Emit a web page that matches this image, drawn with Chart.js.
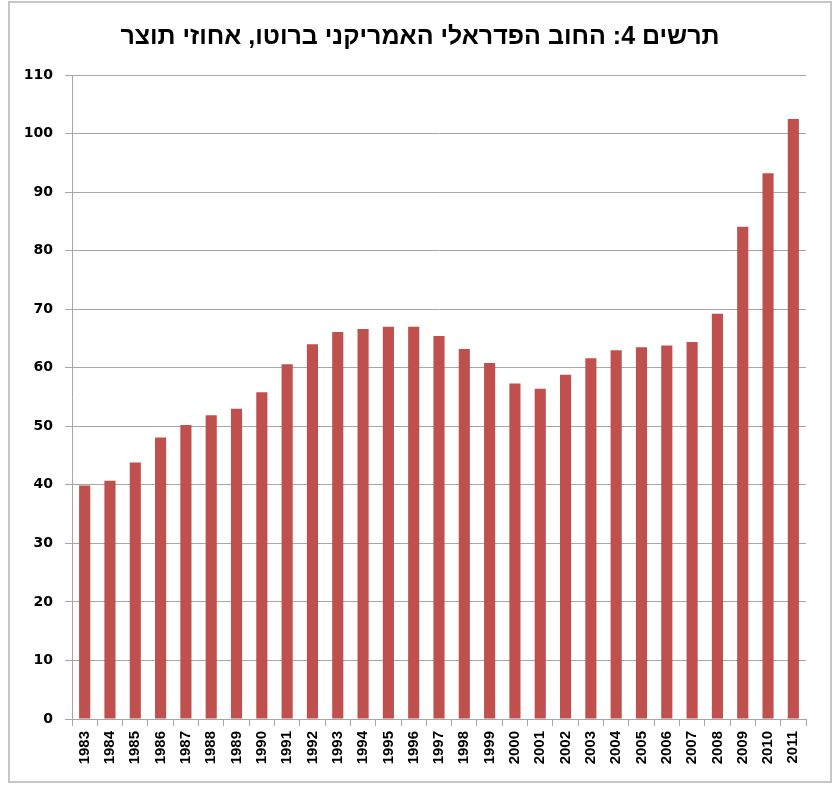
<!DOCTYPE html>
<html>
<head>
<meta charset="utf-8">
<script src="https://cdn.jsdelivr.net/npm/chart.js@4/dist/chart.umd.min.js"></script>
<style>
  body { margin: 0; background: #fff; }
  #wrap { position: relative; width: 838px; height: 785px; }
  #debtChart { direction: rtl; }
</style>
</head>
<body>
<div id="wrap"><canvas id="debtChart" width="838" height="785"></canvas></div>
<script>
  // Gross US federal debt, % of GDP
  const years = ['1983', '1984', '1985', '1986', '1987', '1988', '1989', '1990', '1991', '1992',
    '1993', '1994', '1995', '1996', '1997', '1998', '1999', '2000', '2001', '2002',
    '2003', '2004', '2005', '2006', '2007', '2008', '2009', '2010', '2011'];
  const debtPct = [39.9, 40.7, 43.8, 48.1, 50.2, 51.9, 53.0, 55.8, 60.6, 64.0,
    66.1, 66.6, 67.0, 67.0, 65.4, 63.2, 60.8, 57.3, 56.4, 58.8,
    61.6, 63.0, 63.5, 63.8, 64.4, 69.2, 84.1, 93.2, 102.5];
  const titleText = 'תרשים 4: החוב הפדראלי האמריקני ברוטו, אחוזי תוצר';

  const wideFont = '"DejaVu Sans", Verdana, sans-serif';
  const narrowFont = '"Liberation Sans", Arial, sans-serif';

  // outer chart frame like the spreadsheet chart border,
  // and centre the title on the whole frame rather than the padded area
  const framePlugin = {
    id: 'frame',
    afterLayout(chart) {
      if (chart.titleBlock) chart.titleBlock.right = chart.width - 8;
    },
    beforeDraw(chart) {
      const c = chart.ctx;
      c.save();
      c.fillStyle = '#fff';
      c.fillRect(0, 0, chart.width, chart.height);
      c.strokeStyle = '#c6c6c6';
      c.lineWidth = 2;
      c.strokeRect(9, 2, 822, 780);
      c.restore();
    }
  };

  const ctx = document.getElementById('debtChart').getContext('2d');
  new Chart(ctx, {
    type: 'bar',
    data: {
      labels: years,
      datasets: [{
        data: debtPct,
        backgroundColor: '#C0504D',
        barPercentage: 0.44,
        categoryPercentage: 1
      }]
    },
    options: {
      responsive: false,
      animation: false,
      layout: { padding: { left: 10, right: 32, top: 14, bottom: 14 } },
      plugins: {
        legend: { display: false },
        tooltip: { enabled: false },
        title: {
          display: true,
          text: titleText,
          color: '#000',
          font: { family: narrowFont, size: 25, weight: 'bold' },
          padding: { top: 8, bottom: 23 }
        }
      },
      scales: {
        x: {
          afterFit(s) { s.height = 52; },
          grid: {
            display: true,
            offset: true,
            drawOnChartArea: false,
            drawTicks: true,
            tickLength: 7,
            color: '#a6a6a6'
          },
          border: { display: true, color: '#a6a6a6' },
          ticks: {
            color: '#000',
            minRotation: 90,
            maxRotation: 90,
            autoSkip: false,
            padding: 5,
            font: { family: narrowFont, size: 15, weight: 'bold' }
          }
        },
        y: {
          min: 0,
          max: 110,
          afterFit(s) { s.width = 62; },
          grid: {
            color: '#a6a6a6',
            tickLength: 7
          },
          border: { display: true, color: '#a6a6a6' },
          ticks: {
            stepSize: 10,
            color: '#000',
            padding: 12,
            font: { family: wideFont, size: 14, weight: 'bold' }
          }
        }
      }
    },
    plugins: [framePlugin]
  });
</script>
</body>
</html>
